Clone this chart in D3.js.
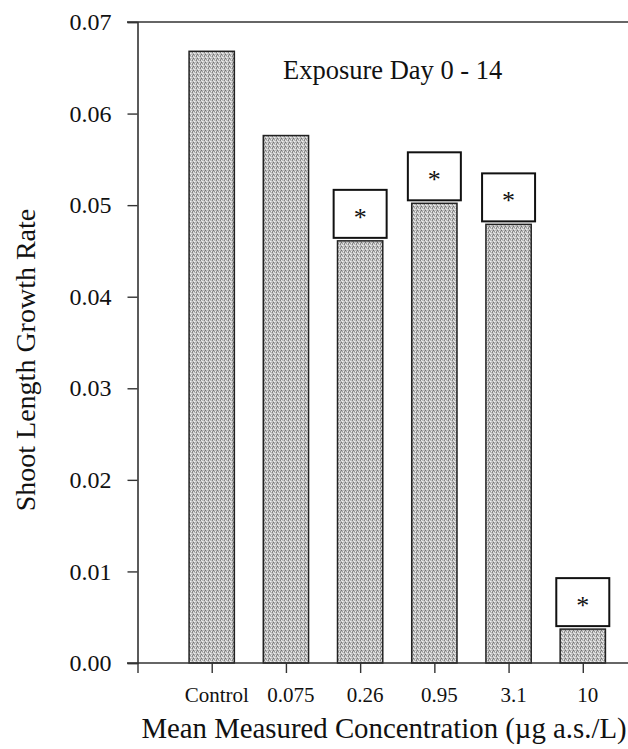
<!DOCTYPE html>
<html>
<head>
<meta charset="utf-8">
<script src="https://cdn.jsdelivr.net/npm/d3@7"></script>
<style>
  html, body { margin: 0; padding: 0; background: #fff; }
  svg { display: block; }
  text { font-family: "Liberation Serif", "Times New Roman", serif; fill: #111; }
</style>
</head>
<body>
<svg id="chart" width="628" height="749"></svg>
<script>
// Shoot length growth rate by mean measured concentration (exposure day 0 - 14)
const categories = ["Control", "0.075", "0.26", "0.95", "3.1", "10"];
const growthRate = [0.0668, 0.0576, 0.0461, 0.0502, 0.0479, 0.0037];
const significant = [false, false, true, true, true, true];
const yTicks = [0, 0.01, 0.02, 0.03, 0.04, 0.05, 0.06, 0.07];
const yTickLabels = ["0.00", "0.01", "0.02", "0.03", "0.04", "0.05", "0.06", "0.07"];
const xTickPositions = [0, 1, 2, 3, 4, 5, 6];

const SERIF = "'Liberation Serif', 'Times New Roman', serif";
const svg = d3.select("#chart");
const W = 628, H = 749;

// Positions: slot 0 sits on the y axis, categories occupy slots 1..6
const x = d3.scaleLinear().domain([0, 7]).range([137.5, 657]);
const y = d3.scaleLinear().domain([0, 0.07]).range([663, 22]);
const slot = x(1) - x(0);
const barW = slot * 0.61;

// Stippled fill for the bars
const defs = svg.append("defs");
const pat = defs.append("pattern")
  .attr("id", "stipple").attr("patternUnits", "userSpaceOnUse")
  .attr("width", 4).attr("height", 4);
pat.append("rect").attr("width", 4).attr("height", 4).attr("fill", "#bdbdbd");
[[0,0,"#808080"],[2,1,"#f0f0f0"],[1,2,"#707070"],[3,3,"#ececec"],[0,3,"#929292"],[2,3,"#9a9a9a"],[3,1,"#d4d4d4"],[1,0,"#e4e4e4"]]
  .forEach(([px, py, c]) => pat.append("rect").attr("x", px).attr("y", py).attr("width", 1).attr("height", 1).attr("fill", c));

// Bars
svg.append("g").selectAll("rect")
  .data(growthRate)
  .join("rect")
  .attr("x", (d, i) => x(i + 1) - barW / 2)
  .attr("y", d => y(d))
  .attr("width", barW)
  .attr("height", d => y(0) - y(d))
  .attr("fill", "url(#stipple)")
  .attr("stroke", "#222")
  .attr("stroke-width", 1.5);

// Significance markers: boxed asterisks just above the bars
const boxW = 53, boxH = 48, gap = 3;
const marks = svg.append("g").selectAll("g")
  .data(growthRate.map((v, i) => ({ v, i })).filter(d => significant[d.i]))
  .join("g")
  .attr("transform", d => `translate(${x(d.i + 1)},${y(d.v) - gap - boxH / 2})`);
marks.append("rect")
  .attr("x", -boxW / 2).attr("y", -boxH / 2)
  .attr("width", boxW).attr("height", boxH)
  .attr("fill", "#fff").attr("stroke", "#111").attr("stroke-width", 2);
marks.append("text")
  .attr("text-anchor", "middle")
  .attr("y", 12)
  .attr("font-family", SERIF)
  .style("font-size", "26px")
  .text("*");

// Axis frame lines
const axisColor = "#333";
svg.append("line").attr("x1", 127).attr("x2", W).attr("y1", y(0.07)).attr("y2", y(0.07))
  .attr("stroke", axisColor).attr("stroke-width", 1.6);
svg.append("line").attr("x1", 127).attr("x2", W).attr("y1", y(0)).attr("y2", y(0))
  .attr("stroke", axisColor).attr("stroke-width", 1.6);

// Y axis
const yAxis = d3.axisLeft(y).tickValues(yTicks)
  .tickFormat((d, i) => yTickLabels[i]).tickSize(10).tickPadding(16);
const gy = svg.append("g").attr("transform", `translate(${x(0)},0)`).call(yAxis)
  .attr("font-family", SERIF);
gy.select(".domain").attr("stroke", axisColor).attr("stroke-width", 1.6);
gy.selectAll(".tick line").attr("stroke", axisColor).attr("stroke-width", 1.4);
gy.selectAll(".tick text").attr("font-family", SERIF).style("font-size", "24px").attr("fill", "#111");

// X axis ticks
const xAxis = d3.axisBottom(x).tickValues(xTickPositions).tickFormat("").tickSize(10).tickSizeOuter(0);
const gx = svg.append("g").attr("transform", `translate(0,${y(0)})`).call(xAxis);
gx.select(".domain").remove();
gx.selectAll(".tick line").attr("stroke", axisColor).attr("stroke-width", 1.4);

// Category labels
svg.append("g").selectAll("text")
  .data(categories)
  .join("text")
  .attr("x", (d, i) => x(i + 1) + 5)
  .attr("y", 702)
  .attr("text-anchor", "middle")
  .attr("font-family", SERIF)
  .style("font-size", "21px")
  .text(d => d);

// Titles
svg.append("text")
  .attr("x", 384).attr("y", 738)
  .attr("text-anchor", "middle")
  .attr("font-family", SERIF)
  .style("font-size", "28.8px")
  .text("Mean Measured Concentration (µg a.s./L)");

svg.append("text")
  .attr("transform", "translate(35,360) rotate(-90)")
  .attr("text-anchor", "middle")
  .attr("font-family", SERIF)
  .style("font-size", "28px")
  .text("Shoot Length Growth Rate");

svg.append("text")
  .attr("x", 283).attr("y", 79)
  .attr("font-family", SERIF)
  .style("font-size", "26.5px")
  .text("Exposure Day 0 - 14");
</script>
</body>
</html>
